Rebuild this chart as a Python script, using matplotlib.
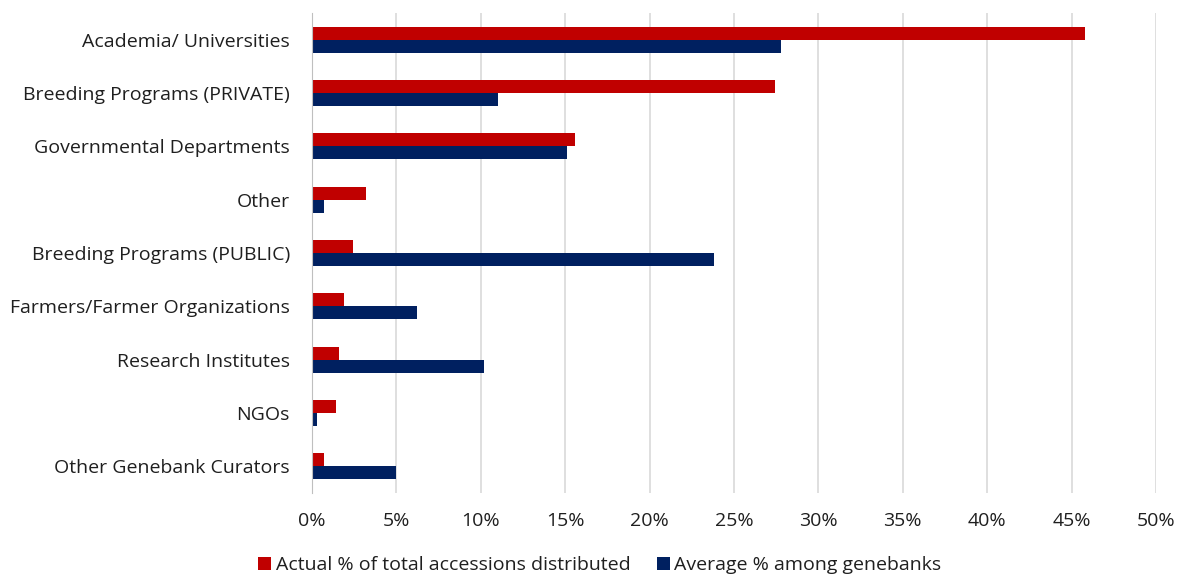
import matplotlib
matplotlib.use("Agg")
import matplotlib.pyplot as plt
import numpy as np
from matplotlib.ticker import PercentFormatter

categories = [
    "Academia/ Universities",
    "Breeding Programs (PRIVATE)",
    "Governmental Departments",
    "Other",
    "Breeding Programs (PUBLIC)",
    "Farmers/Farmer Organizations",
    "Research Institutes",
    "NGOs",
    "Other Genebank Curators",
]
actual_pct = [45.8, 27.4, 15.6, 3.2, 2.4, 1.9, 1.6, 1.4, 0.7]
average_pct = [27.8, 11.0, 15.1, 0.7, 23.8, 6.2, 10.2, 0.3, 5.0]
series_names = ["Actual % of total accessions distributed", "Average % among genebanks"]
xticks = [0, 5, 10, 15, 20, 25, 30, 35, 40, 45, 50]

RED = "#C00000"
BLUE = "#002060"
TEXT = "#1F1F1F"
FS = 14

plt.rcParams["font.family"] = ["Open Sans", "DejaVu Sans"]

fig = plt.figure(figsize=(11.78, 5.74), dpi=100)
ax = fig.add_axes([312 / 1178, 1 - 493 / 574, (1156 - 312) / 1178, (493 - 13) / 574])

y = np.arange(len(categories))
h = 0.245
ax.barh(y - h / 2, actual_pct, height=h, color=RED, label=series_names[0], zorder=3)
ax.barh(y + h / 2, average_pct, height=h, color=BLUE, label=series_names[1], zorder=3)

ax.set_ylim(len(categories) - 0.5, -0.5)
ax.set_xlim(0, 50)
ax.set_yticks(y)
ax.set_yticklabels(categories, fontsize=FS, color=TEXT)
ax.set_xticks(xticks)
ax.xaxis.set_major_formatter(PercentFormatter(decimals=0))
ax.tick_params(axis="x", labelsize=FS, colors=TEXT, length=0, pad=14)
ax.tick_params(axis="y", length=0, pad=16)

ax.grid(axis="x", color="#D9D9D9", linewidth=1.2, zorder=0)
for side in ["top", "right", "bottom"]:
    ax.spines[side].set_visible(False)
ax.spines["left"].set_color("#BFBFBF")
ax.spines["left"].set_zorder(4)

fig.legend(
    loc="center",
    bbox_to_anchor=(600 / 1178, 1 - 565 / 574),
    ncol=2,
    frameon=False,
    fontsize=FS,
    handlelength=0.65,
    handleheight=0.65,
    handletextpad=0.25,
    columnspacing=1.35,
    labelcolor=TEXT,
)

fig.savefig("out.png", dpi=100)
